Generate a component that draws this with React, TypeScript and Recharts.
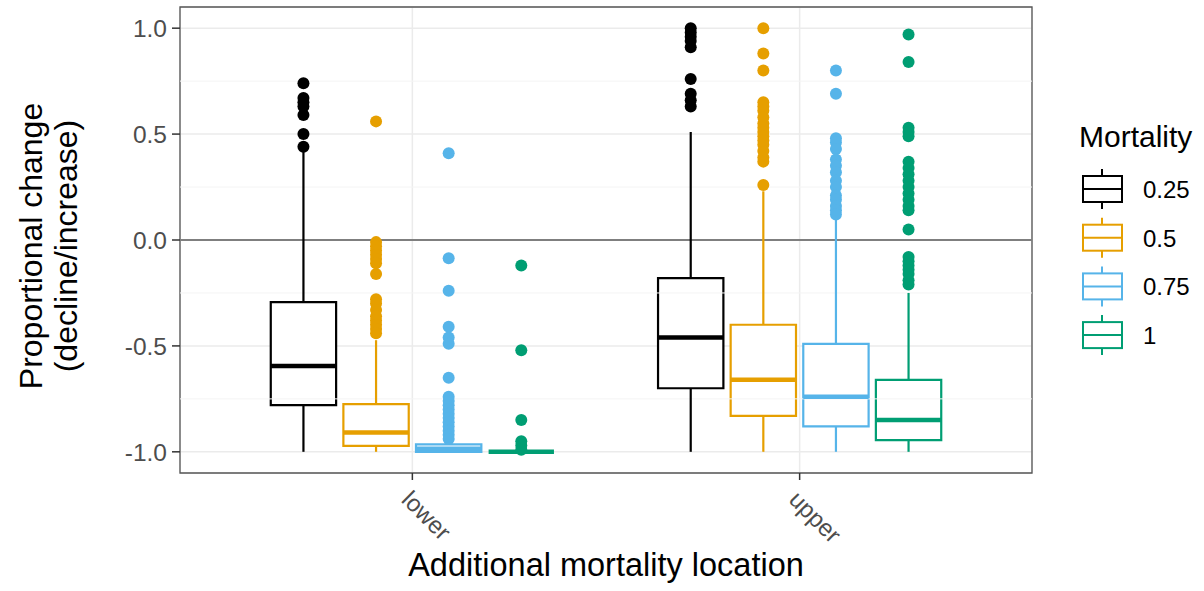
import React from 'react';
import {
  ComposedChart, XAxis, YAxis, CartesianGrid, Scatter, ReferenceArea, ReferenceLine,
} from 'recharts';

const locations = ['lower', 'upper'];
const mortality = ['0.25', '0.5', '0.75', '1'];
const COLORS = ['#000000', '#E69F00', '#56B4E9', '#009E73'];

// boxplot stats, one entry per mortality level
const lowerMin = [-1.0, -1.0, -1.0, -1.0];
const lowerQ1 = [-0.78, -0.972, -1.0, -1.0];
const lowerMedian = [-0.595, -0.909, -0.985, -1.0];
const lowerQ3 = [-0.293, -0.775, -0.965, -1.0];
const lowerMax = [0.42, -0.473, -0.95, -1.0];

const upperMin = [-1.0, -1.0, -1.0, -1.0];
const upperQ1 = [-0.7, -0.83, -0.88, -0.945];
const upperMedian = [-0.46, -0.66, -0.74, -0.85];
const upperQ3 = [-0.18, -0.4, -0.49, -0.66];
const upperMax = [0.51, 0.23, 0.1, -0.25];

const lowerOutliers = [
  [0.74, 0.67, 0.65, 0.63, 0.59, 0.5, 0.44],
  [0.56, -0.01, -0.03, -0.05, -0.07, -0.09, -0.11, -0.16, -0.28, -0.3, -0.33, -0.36, -0.38, -0.4, -0.42, -0.44],
  [0.41, -0.086, -0.24, -0.41, -0.46, -0.49, -0.65, -0.74, -0.76, -0.78, -0.8, -0.82, -0.84, -0.86, -0.88, -0.9, -0.92, -0.94],
  [-0.12, -0.52, -0.85, -0.95, -0.97, -0.99],
];
const upperOutliers = [
  [1.0, 0.98, 0.96, 0.94, 0.91, 0.76, 0.69, 0.66, 0.63],
  [1.0, 0.88, 0.8, 0.65, 0.63, 0.61, 0.58, 0.55, 0.53, 0.51, 0.49, 0.47, 0.45, 0.42, 0.39, 0.37, 0.26],
  [0.8, 0.69, 0.48, 0.46, 0.43, 0.38, 0.35, 0.32, 0.28, 0.25, 0.21, 0.19, 0.16, 0.14, 0.12],
  [0.97, 0.84, 0.53, 0.51, 0.49, 0.37, 0.34, 0.31, 0.28, 0.25, 0.22, 0.19, 0.16, 0.14, 0.05, -0.08, -0.1, -0.12, -0.14, -0.16, -0.19, -0.21],
];

const yTicks = [-1, -0.5, 0, 0.5, 1];
const yMinor = [-0.75, -0.25, 0.25, 0.75];

const stats = [
  { min: lowerMin, q1: lowerQ1, med: lowerMedian, q3: lowerQ3, max: lowerMax },
  { min: upperMin, q1: upperQ1, med: upperMedian, q3: upperQ3, max: upperMax },
];
const outliers = [lowerOutliers, upperOutliers];

// dodge like ggplot: 0.75 wide group, boxes with 10% padding
const DODGE = 0.75;
const slot = DODGE / mortality.length;
const HALF = (slot * 0.9) / 2;
const offset = (i: number) => (i - (mortality.length - 1) / 2) * slot;

const FONT = '"Liberation Sans", Arial, sans-serif';

const XTick = (props: any) => {
  const { x, y, payload } = props;
  return (
    <text
      transform={`translate(${x - 12},${y + 19}) rotate(45)`}
      textAnchor="start"
      fontSize={24}
      fill="#4d4d4d"
    >
      {locations[payload.value - 1]}
    </text>
  );
};

const YTitle = () => (
  <g fontSize={32} fill="#000">
    <text transform="translate(42,246) rotate(-90)" textAnchor="middle">Proportional change</text>
    <text transform="translate(77,246) rotate(-90)" textAnchor="middle">(decline/increase)</text>
  </g>
);

const LegendBox = () => (
  <svg width={134} height={260} style={{ position: 'absolute', left: 1070, top: 110 }}>
    <text x={9} y={37} fontSize={30} fill="#000">Mortality</text>
    {mortality.map((m, i) => {
      const cy = 79 + i * 48.7;
      return (
        <g key={m} stroke={COLORS[i]} strokeWidth={2} fill="#fff">
          <line x1={32} x2={32} y1={cy - 20} y2={cy + 20} />
          <rect x={13} y={cy - 13} width={39} height={26} />
          <line x1={13} x2={52} y1={cy} y2={cy} />
          <text x={73} y={cy + 9} fontSize={24} fill="#000" stroke="none">{m}</text>
        </g>
      );
    })}
  </svg>
);

export default function App() {
  const boxEls = locations.flatMap((loc, li) =>
    mortality.flatMap((m, mi) => {
      const s = stats[li];
      const cx = li + 1 + offset(mi);
      const c = COLORS[mi];
      const k = `${loc}-${m}`;
      return [
        <ReferenceLine key={k + '-wu'} segment={[{ x: cx, y: s.q3[mi] }, { x: cx, y: s.max[mi] }]} stroke={c} strokeWidth={2.2} />,
        <ReferenceLine key={k + '-wl'} segment={[{ x: cx, y: s.min[mi] }, { x: cx, y: s.q1[mi] }]} stroke={c} strokeWidth={2.2} />,
        <ReferenceArea key={k + '-box'} x1={cx - HALF} x2={cx + HALF} y1={s.q1[mi]} y2={s.q3[mi]} fill="#fff" fillOpacity={1} stroke={c} strokeWidth={2.2} />,
        <ReferenceLine key={k + '-med'} segment={[{ x: cx - HALF, y: s.med[mi] }, { x: cx + HALF, y: s.med[mi] }]} stroke={c} strokeWidth={4.5} />,
      ];
    })
  );

  const pointSets = mortality.map((m, mi) =>
    locations.flatMap((loc, li) => outliers[li][mi].map((v) => ({ x: li + 1 + offset(mi), y: v })))
  );

  return (
    <div style={{ position: 'absolute', left: 0, top: 0, width: 1204, height: 591, fontFamily: FONT, background: '#fff' }}>
      <ComposedChart width={1204} height={591} margin={{ top: 7, right: 172, bottom: 0, left: 0 }}>
        <CartesianGrid stroke="#ebebeb" strokeWidth={1.5} />
        {yMinor.map((v) => (
          <ReferenceLine key={'minor' + v} y={v} stroke="#f4f4f4" strokeWidth={1} />
        ))}
        <XAxis
          type="number"
          dataKey="x"
          domain={[0.4, 2.6]}
          ticks={[1, 2]}
          height={118}
          axisLine={false}
          tickSize={7}
          tickLine={{ stroke: '#333', strokeWidth: 1.5 }}
          tick={<XTick />}
          interval={0}
        />
        <YAxis
          type="number"
          dataKey="y"
          domain={[-1.1, 1.1]}
          ticks={yTicks}
          width={180}
          axisLine={false}
          tickSize={8}
          tickMargin={5}
          tickLine={{ stroke: '#333', strokeWidth: 1.5 }}
          tick={{ fill: '#4d4d4d', fontSize: 24.5 }}
          tickFormatter={(v: number) => v.toFixed(1)}
          interval={0}
          label={{ content: <YTitle /> }}
        />
        <ReferenceLine y={0} stroke="#7f7f7f" strokeWidth={2} />
        {boxEls}
        {pointSets.map((pts, mi) => (
          <Scatter
            key={mortality[mi]}
            name={mortality[mi]}
            data={pts}
            isAnimationActive={false}
            shape={(p: any) => <circle cx={p.cx} cy={p.cy} r={6} fill={COLORS[mi]} />}
          />
        ))}
        <ReferenceArea x1={0.4} x2={2.6} y1={-1.1} y2={1.1} fill="none" stroke="#555" strokeWidth={1.3} />
      </ComposedChart>
      <LegendBox />
      <div
        style={{ position: 'absolute', left: 180, width: 852, top: 547, textAlign: 'center', fontSize: 32.5, color: '#000', lineHeight: '36px' }}
      >
        Additional mortality location
      </div>
    </div>
  );
}
